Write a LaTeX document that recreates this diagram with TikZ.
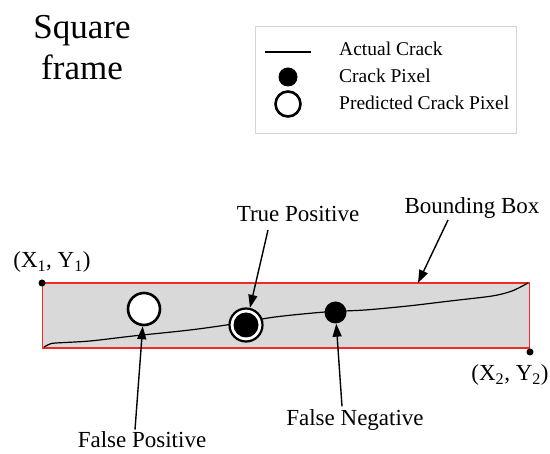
\documentclass[tikz,border=0pt]{standalone}
\usepackage{fontspec}
\setmainfont{Liberation Serif}
\usetikzlibrary{arrows.meta}
\definecolor{BoxGray}{HTML}{D9D9D9}
\definecolor{BoxRed}{HTML}{EE2A2A}
\definecolor{KeyEdge}{HTML}{D4D4D4}
\tikzset{
  lbl/.style={font=\fontsize{23}{26}\selectfont,inner sep=1pt},
  keytxt/.style={font=\fontsize{19.5}{22}\selectfont,anchor=west,inner sep=0pt},
  pix/.style={circle,fill=black,inner sep=0pt,minimum size=#1},
  pred/.style={circle,draw=black,line width=2.6pt,fill=white,inner sep=0pt,minimum size=#1},
  corner/.style={circle,fill=black,inner sep=0pt,minimum size=7pt},
  ptr/.style={-{Triangle[length=13pt,width=9pt]},line width=1.4pt},
  crack/.style={line width=1.2pt}
}

\begin{document}
\begin{tikzpicture}[x=1pt,y=-1pt]
  \useasboundingbox (0,0) rectangle (550,454);
  % title and key
  \node[font=\fontsize{35}{41}\selectfont,align=center] (title) at (82,48) {Square\\frame};
  \node[draw=KeyEdge,minimum width=261pt,minimum height=107pt,inner sep=0pt] (key) at (385.5,79.5) {};
  \draw[crack] (265,52) -- (311,52);
  \node[pix=19pt] (keydot) at (288,77) {};
  \node[pred=25pt] (keyring) at (288,104) {};
  \node[keytxt] (keyline) at (339,49) {Actual Crack};
  \node[keytxt] (keypix) at (339,76) {Crack Pixel};
  \node[keytxt] (keypred) at (339,103) {Predicted Crack Pixel};
  % bounding box
  \node[draw=BoxRed,fill=BoxGray,line width=1.5pt,minimum width=487pt,minimum height=65pt,inner sep=0pt] (bbox) at (286,315.5) {};
  \node[corner] (c1) at (42,283) {};
  \node[corner] (c2) at (530,352) {};
  \node[lbl] (c1lbl) at (52,262) {(X\textsubscript{1}, Y\textsubscript{1})};
  \node[lbl] (c2lbl) at (510,375) {(X\textsubscript{2}, Y\textsubscript{2})};
  % crack
  \draw[crack] plot[smooth,tension=0.5] coordinates {(44,347) (50,344) (56,343) (90,341) (133,336)
    (190,330) (233,324) (275,317) (325,312) (365,310) (408,306) (450,301) (492,296) (512,291) (528,283)};
  % pixels
  \node[pred=32pt] (fp) at (144,309) {};
  \node[pred=33pt,line width=2.2pt] (tp) at (246,325) {};
  \node[pix=25pt] (tpcore) at (tp) {};
  \node[pix=22pt] (fn) at (335.5,312.5) {};
  % labels and pointers
  \node[lbl] (tplbl) at (298,214) {True Positive};
  \node[lbl] (bblbl) at (472,208) {Bounding Box};
  \node[lbl] (fplbl) at (142,440) {False Positive};
  \node[lbl] (fnlbl) at (355,420) {False Negative};
  \coordinate (tpfrom) at (268,230);
  \coordinate (bbfrom) at (448,220);
  \coordinate (bbto) at (418,283);
  \draw[ptr] (tpfrom) -- (tp);
  \draw[ptr] (bbfrom) -- (bbto);
  \draw[ptr] (fplbl.north) ++(-7,-1) -- (fp);
  \draw[ptr] (fnlbl.north) ++(-13,-2) -- (fn);
\end{tikzpicture}
\end{document}
